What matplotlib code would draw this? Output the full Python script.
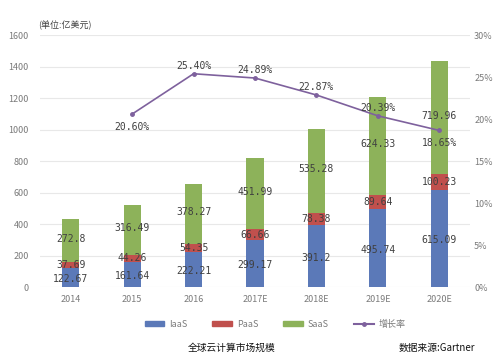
import matplotlib.pyplot as plt
import numpy as np
from matplotlib.lines import Line2D
from matplotlib.patches import Patch

plt.rcParams['font.family'] = ['Noto Sans CJK SC', 'DejaVu Sans']

years = ["2014", "2015", "2016", "2017E", "2018E", "2019E", "2020E"]
iaas = [122.67, 161.64, 222.21, 299.17, 391.2, 495.74, 615.09]
paas = [37.69, 44.26, 54.35, 66.66, 78.38, 89.64, 100.23]
saas = [272.8, 316.49, 378.27, 451.99, 535.28, 624.33, 719.96]
growth = [np.nan, 20.60, 25.40, 24.89, 22.87, 20.39, 18.65]

iaas_lbl = ["122.67", "161.64", "222.21", "299.17", "391.2", "495.74", "615.09"]
paas_lbl = ["37.69", "44.26", "54.35", "66.66", "78.38", "89.64", "100.23"]
saas_lbl = ["272.8", "316.49", "378.27", "451.99", "535.28", "624.33", "719.96"]
growth_lbl = ["", "20.60%", "25.40%", "24.89%", "22.87%", "20.39%", "18.65%"]

c_blue = "#5b79b8"
c_red = "#c0504d"
c_green = "#8db25a"
c_line = "#7e619d"
grid_c = "#e8e8e8"
tick_c = "#7a7a7a"
mono = "DejaVu Sans Mono"

fig = plt.figure(figsize=(5, 3.62), dpi=100)
ax = fig.add_axes([0.08, 0.207, 0.86, 0.696])
ax2 = ax.twinx()

x = np.arange(len(years))
w = 0.28
bot2 = np.array(iaas)
bot3 = bot2 + np.array(paas)
ax.bar(x, iaas, w, color=c_blue, zorder=2)
ax.bar(x, paas, w, bottom=bot2, color=c_red, zorder=2)
ax.bar(x, saas, w, bottom=bot3, color=c_green, zorder=2)

for i in range(len(years)):
    ax.text(x[i], iaas[i] / 2 - 10, iaas_lbl[i], ha="center", va="center",
            fontsize=7, family=mono, color="#404040", zorder=3)
    ax.text(x[i], bot2[i] + paas[i] / 2, paas_lbl[i], ha="center", va="center",
            fontsize=7, family=mono, color="#404040", zorder=3)
    ax.text(x[i], bot3[i] + saas[i] / 2 + 10, saas_lbl[i], ha="center", va="center",
            fontsize=7, family=mono, color="#404040", zorder=3)

ax.set_xlim(-0.5, 6.5)
ax.set_ylim(0, 1600)
ax.set_yticks(range(0, 1601, 200))
ax.set_xticks(x)
ax.set_xticklabels(years)
ax.grid(axis="y", color=grid_c, linewidth=0.8, zorder=0)
ax.set_axisbelow(True)

ax2.plot(x, growth, color=c_line, linewidth=1.2, marker="o", markersize=2.5, zorder=4)
ax2.set_ylim(0, 30)
ax2.set_yticks(range(0, 31, 5))
ax2.set_yticklabels([f"{v}%" for v in range(0, 31, 5)])
for i in range(1, len(years)):
    below = growth_lbl[i] in ("20.60%", "18.65%")
    off = -1.5 if below else 0.9
    ax2.text(x[i], growth[i] + off, growth_lbl[i], ha="center", va="center",
             fontsize=7, family=mono, color="#404040", zorder=5)

for a in (ax, ax2):
    for s in a.spines.values():
        s.set_visible(False)
    a.tick_params(length=0, labelsize=6.5, colors=tick_c)
ax.tick_params(axis="x", pad=6)
ax.tick_params(axis="y", pad=8)
ax2.tick_params(axis="y", pad=3)

fig.text(0.076, 0.93, "(单位:亿美元)", fontsize=6.5, color="#404040", ha="left", va="center")

handles = [Patch(color=c_blue, label="IaaS"), Patch(color=c_red, label="PaaS"),
           Patch(color=c_green, label="SaaS"),
           Line2D([0], [0], color=c_line, marker="o", markersize=2.5, label="增长率")]
leg = fig.legend(handles=handles, loc="center", bbox_to_anchor=(0.55, 0.105), ncol=4,
                 frameon=False, fontsize=6.5, handlelength=2.2, handleheight=0.6,
                 columnspacing=2.8, handletextpad=0.5)
for t in leg.get_texts():
    t.set_color(tick_c)

fig.text(0.464, 0.04, "全球云计算市场规模", fontsize=7, color="#111111", ha="center", va="center")
fig.text(0.874, 0.04, "数据来源:Gartner", fontsize=7, color="#111111", ha="center", va="center")

fig.savefig("out.png", dpi=100)
